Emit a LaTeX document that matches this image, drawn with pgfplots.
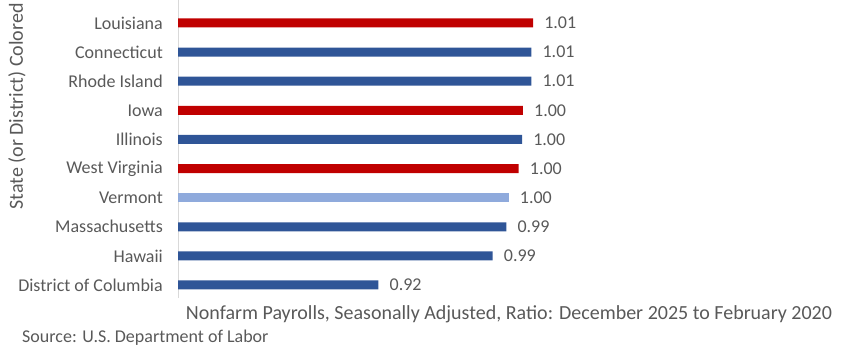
\documentclass[border=0pt]{standalone}
\usepackage{pgfplots}
\pgfplotsset{compat=1.18}
\usepackage{fontspec}
\setmainfont{Carlito}
\definecolor{cred}{HTML}{C00000}
\definecolor{cblue}{HTML}{2F5597}
\definecolor{clight}{HTML}{8FAADC}
\definecolor{ctext}{HTML}{595959}
\definecolor{caxis}{HTML}{D9D9D9}
\begin{document}
\begin{tikzpicture}
\path[use as bounding box] (0,0) rectangle (848bp,356bp);
\begin{axis}[
  at={(178bp,58bp)}, anchor=south west,
  scale only axis, width=662bp, height=298bp,
  xbar, bar width=9bp, bar shift=0pt,
  xmin=0.8, xmax=1.1917,
  ymin=-0.447, ymax=9.79,
  enlargelimits=false,
  axis y line*=left, axis x line*=bottom,
  x axis line style={draw=none},
  y axis line style={draw=caxis, line width=1bp},
  xtick=\empty,
  ytick={0,...,9},
  yticklabels={District of Columbia, Hawaii, Massachusetts, Vermont, West Virginia, Illinois, Iowa, Rhode Island, Connecticut, Louisiana},
  major tick length=0pt,
  yticklabel style={font=\fontsize{18bp}{20bp}\selectfont, text=ctext, xshift=-15bp, inner sep=0pt},
  xlabel={Nonfarm Payrolls, Seasonally Adjusted, Ratio: December 2025 to February 2020},
  xlabel style={at={(axis description cs:0.5,-0.054)}, anchor=center, font=\fontsize{20bp}{22bp}\selectfont, text=ctext},
  ylabel={State (or District) Colored},
  ylabel style={at={(axis description cs:-0.2432,0.643)}, anchor=center, rotate=0, font=\fontsize{20bp}{22bp}\selectfont, text=ctext},
  point meta=x,
  nodes near coords={\pgfmathprintnumber[fixed,fixed zerofill,precision=2,assume math mode=true]{\pgfplotspointmeta}},
  every node near coord/.append style={anchor=west, inner sep=0pt, xshift=11bp, font=\fontsize{18bp}{20bp}\selectfont, text=ctext},
  clip=false,
]
% red states
\addplot[fill=cred, draw=none] coordinates {(1.0101,9) (1.0041,6) (1.0016,4)};
% dark blue
\addplot[fill=cblue, draw=none] coordinates {(1.0091,8) (1.0091,7) (1.0036,5) (0.9943,2) (0.9862,1) (0.9186,0)};
% light blue
\addplot[fill=clight, draw=none] coordinates {(0.9957,3)};
\node[anchor=west, inner sep=0pt, font=\fontsize{18bp}{20bp}\selectfont, text=ctext] at (rel axis cs:-0.2356,-0.134) {Source: U.S. Department of Labor};
\end{axis}
\end{tikzpicture}
\end{document}
